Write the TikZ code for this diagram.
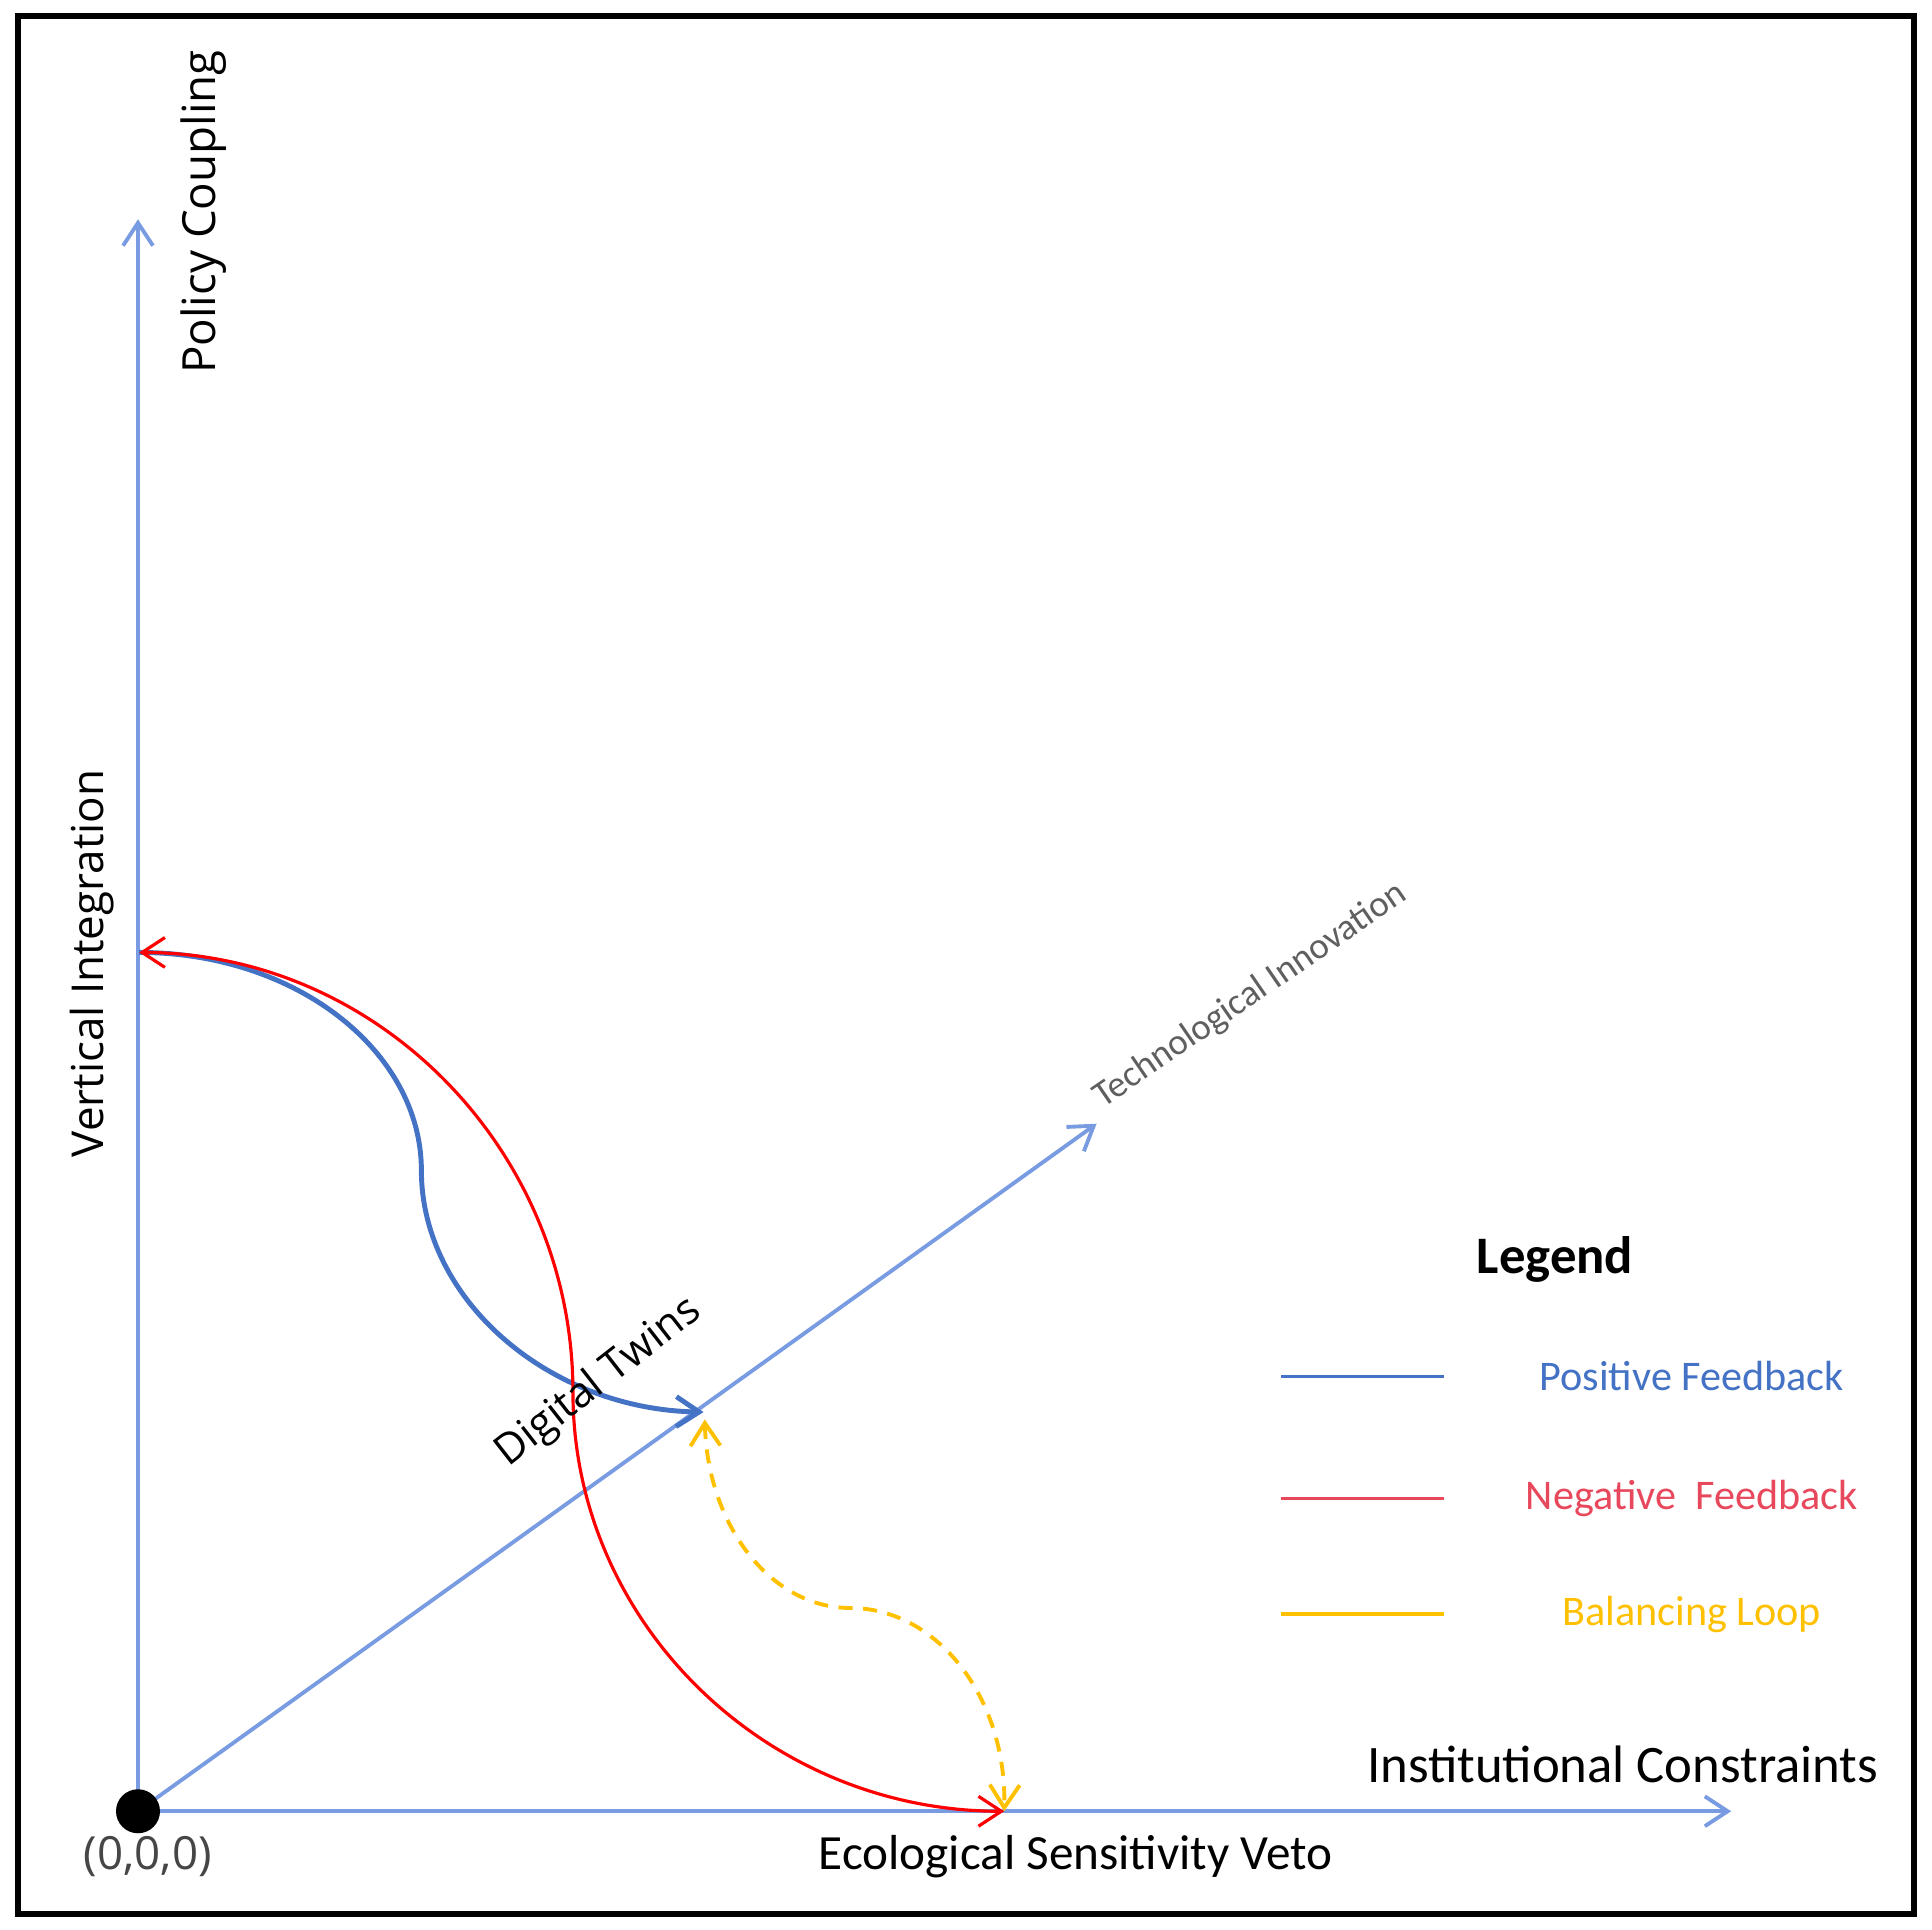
\documentclass[tikz,border=0pt]{standalone}
\usepackage{fontspec}
\setmainfont{Carlito}
\newfontfamily\osans{Open Sans}
\usetikzlibrary{arrows.meta}

\definecolor{axisblue}{RGB}{120,155,225}
\definecolor{posblue}{RGB}{68,114,196}
\definecolor{negred}{RGB}{255,0,0}
\definecolor{legred}{RGB}{232,72,92}
\definecolor{balyellow}{RGB}{255,192,0}
\definecolor{techgray}{RGB}{95,95,95}
\definecolor{origgray}{RGB}{70,70,70}

\tikzset{
  barb/.tip={Straight Barb[length=6.5pt,width=8.5pt]},
  axis/.style={axisblue, line width=1.1pt, -barb},
  posfb/.style={posblue, line width=1.4pt},
  negfb/.style={negred, line width=0.9pt},
  balloop/.style={balyellow, line width=1.1pt, dash pattern=on 4pt off 3pt},
}

\begin{document}
\begin{tikzpicture}[x=0.12321mm, y=-0.12321mm]
    \useasboundingbox (0,0) rectangle (1568,1566);
    \draw[line width=1.7pt] (15,13) rectangle (1553,1553);

    % axes
    \coordinate (O) at (112,1470);
    \coordinate (Ytop) at (112,178);
    \coordinate (Xend) at (1405,1470);
    \coordinate (Zend) at (890,912);
    \draw[axis] (O) -- (Ytop);
    \draw[axis] (O) -- (Xend);
    \draw[axis] (O) -- (Zend);
    \node[circle, fill=black, inner sep=0pt, minimum size=0.44cm] (dot) at (O) {};

    % feedback paths
    \coordinate (V) at (113,773);
    \coordinate (E) at (815,1470);
    \coordinate (D) at (571,1146);
    \coordinate (Dlow) at (572,1152);
    \draw[posfb, -barb] (V) .. controls (240,773) and (342,853) .. (342,950)
        .. controls (342,1055) and (446,1144) .. (D);
    \draw[negfb, barb-barb] (V) .. controls (307,773) and (465,934) .. (465,1130)
        .. controls (465,1317) and (622,1470) .. (E);
    \draw[balloop, barb-barb] (Dlow) .. controls (574,1237) and (625,1305) .. (690,1305)
        .. controls (760,1305) and (817,1377) .. (E);

    % labels
    \node[rotate=90, font=\osans\fontsize{13}{15}\selectfont] (policy) at (165,172) {Policy Coupling};
    \node[rotate=90, font=\osans\fontsize{12.5}{15}\selectfont] (vint) at (75,782) {Vertical Integration};
    \node[rotate=34.5, techgray, font=\fontsize{10.5}{12}\selectfont] (tech) at (1015,808) {Technological Innovation};
    \node[rotate=38, font=\osans\fontsize{12}{14}\selectfont] (twins) at (486,1122) {Digital Twins};
    \node[font=\fontsize{15}{18}\selectfont] (inst) at (1317,1432) {Institutional Constraints};
    \node[font=\fontsize{14}{17}\selectfont] (eco) at (873,1507) {Ecological Sensitivity Veto};
    \node[origgray, font=\osans\fontsize{13}{15}\selectfont] (orig) at (120,1507) {(0,0,0)};

    % legend
    \node[font=\bfseries\fontsize{15}{18}\selectfont] (legend) at (1262,1022) {Legend};
    \foreach \y/\c/\t in {1117/posblue/Positive Feedback, 1216/legred/Negative~~Feedback, 1310/balyellow/Balancing Loop}{
        \draw[\c, line width=1pt] (1040,\y) -- (1172,\y);
        \node[\c, font=\fontsize{12}{14}\selectfont] (leg\y) at (1373,\y) {\t};
    }
\end{tikzpicture}
\end{document}
